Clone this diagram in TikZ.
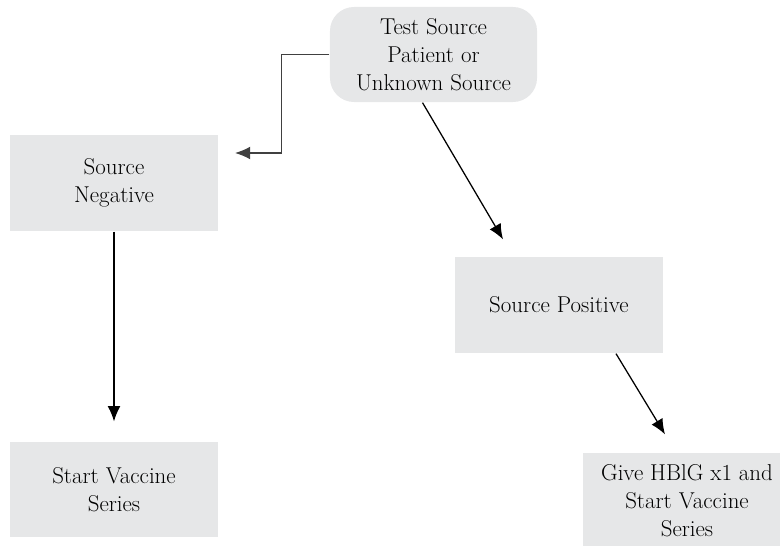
\documentclass[tikz,border=0pt]{standalone}
\usepackage{xcolor}
\usepackage{tikz}
\usetikzlibrary{arrows.meta, positioning}
\definecolor{boxgray}{HTML}{E6E7E8}

\begin{document}
\begin{tikzpicture}[->, >={Latex[length=0.38cm,width=0.32cm]}, x=0.025cm, y=-0.025cm, line width=0.9pt,
  box/.style={fill=boxgray, draw=none, align=center, inner sep=0pt, minimum width=5.2cm, minimum height=2.4cm, font=\fontsize{16.3}{19.8}\selectfont},
  roundbox/.style={box, rounded corners=0.6cm, minimum width=5.175cm, minimum height=2.375cm}]
\useasboundingbox (0,0) rectangle (780,545);
% Cajas
\node[roundbox] (test) at (433.5,54.5) {Test Source\\Patient or\\Unknown Source};
\node[box] (neg) at (114,183) {Source\\Negative};
\node[box] (pos) at (559,305) {Source Positive};
\node[box, minimum height=2.375cm] (vacc) at (114,489.5) {Start Vaccine\\Series};
\node[box] (hbig) at (687,501) {Give HBlG x1 and\\Start Vaccine\\Series};

% Flechas
\coordinate (negin) at (235,153);
\draw[black!75] (test.west) -- ++(-48,0) |- (negin);
\draw ([shift={(-11,0)}]test.south) -- ([shift={(-56,-17)}]pos.north);
\draw (neg.south) -- ([shift={(0,-20)}]vacc.north);
\draw ([shift={(57,0)}]pos.south) -- ([shift={(-22,-18)}]hbig.north);
\end{tikzpicture}
\end{document}
